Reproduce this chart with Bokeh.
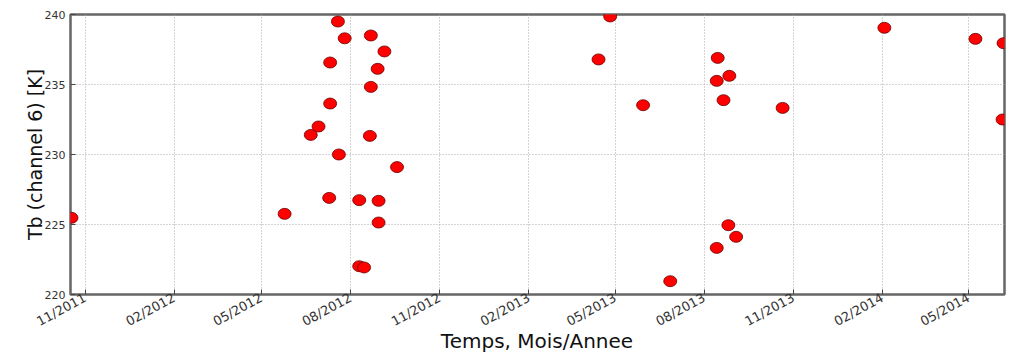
from datetime import datetime
from bokeh.plotting import figure
from bokeh.layouts import column
from bokeh.models import Range1d, FixedTicker, DatetimeTickFormatter, ColumnDataSource, Div
from bokeh.embed import file_html
from bokeh.resources import INLINE

dates = ["2011-10-18", "2012-05-25", "2012-06-21", "2012-06-29", "2012-07-10", "2012-07-11",
         "2012-07-11", "2012-07-19", "2012-07-20", "2012-07-26", "2012-08-10", "2012-08-10",
         "2012-08-15", "2012-08-21", "2012-08-22", "2012-08-22", "2012-08-29", "2012-08-30",
         "2012-08-30", "2012-09-05", "2012-09-18", "2013-04-14", "2013-04-26", "2013-05-30",
         "2013-06-27", "2013-08-14", "2013-08-14", "2013-08-15", "2013-08-21", "2013-08-26",
         "2013-08-27", "2013-09-03", "2013-10-21", "2014-02-03", "2014-05-08", "2014-06-05",
         "2014-06-06"]
tb = [225.48, 225.76, 231.4, 232.0, 226.9, 236.57,
      233.64, 239.5, 230.0, 238.3, 226.74, 222.02,
      221.93, 231.33, 234.83, 238.5, 236.12, 225.14,
      226.69, 237.36, 229.1, 236.79, 239.86, 233.52,
      220.95, 223.33, 235.26, 236.9, 233.88, 224.95,
      235.62, 224.12, 233.33, 239.05, 238.26, 232.5,
      237.95]
tick_months = ["2011-11-01", "2012-02-01", "2012-05-01", "2012-08-01", "2012-11-01",
               "2013-02-01", "2013-05-01", "2013-08-01", "2013-11-01", "2014-02-01",
               "2014-05-01"]
y_ticks = [220, 225, 230, 235, 240]
x_title = "Temps, Mois/Annee"
y_title = "Tb (channel 6) [K]"

x = [datetime.strptime(d, "%Y-%m-%d") for d in dates]
src = ColumnDataSource(dict(x=x, y=tb))

FONT = "DejaVu Sans"
p = figure(width=1010, height=338, x_axis_type="datetime", output_backend="svg",
           toolbar_location=None,
           x_range=Range1d(datetime(2011, 10, 17), datetime(2014, 6, 7)),
           y_range=Range1d(220, 240),
           min_border_left=70, min_border_right=6, min_border_top=14, min_border_bottom=44)

p.ellipse(x="x", y="y", width=13, height=11, width_units="screen", height_units="screen",
          source=src, fill_color="#ff0000", line_color="#6a0000", line_width=0.8)

tick_ms = [datetime.strptime(d, "%Y-%m-%d").timestamp() * 1000 for d in tick_months]
p.xaxis.ticker = FixedTicker(ticks=tick_ms)
p.xaxis.formatter = DatetimeTickFormatter(days="%m/%Y", months="%m/%Y", years="%m/%Y")
p.yaxis.ticker = FixedTicker(ticks=y_ticks)

for ax in (p.xaxis[0], p.yaxis[0]):
    ax.major_tick_in = 5
    ax.major_tick_out = 0
    ax.minor_tick_line_color = None
    ax.axis_line_color = None
    ax.major_tick_line_color = "#444444"
    ax.major_label_text_font = FONT
    ax.major_label_text_color = "#333333"
    ax.axis_label_text_font = FONT
    ax.axis_label_text_font_style = "normal"
    ax.axis_label_text_color = "#111111"

p.xaxis.major_label_text_font_size = "13px"
p.yaxis.major_label_text_font_size = "11px"
p.yaxis.axis_label_text_font_size = "19px"
p.xaxis.major_label_orientation = 0.5
p.yaxis.axis_label = y_title
p.yaxis.axis_label_standoff = -4
p.yaxis.major_label_standoff = 5
p.xaxis.major_label_standoff = 2

p.grid.grid_line_color = "#aaaaaa"
p.grid.grid_line_dash = "1 2"
p.grid.grid_line_width = 1

p.outline_line_color = "#666666"
p.outline_line_width = 2.5

p.background_fill_color = "white"
p.border_fill_color = "white"

xlabel = Div(text=('<div style="position:relative;top:-5px;width:1010px;height:14px;'
                   'line-height:16px;text-align:center;'
                   'padding-left:64px;box-sizing:border-box;font-family:\'DejaVu Sans\';'
                   'font-size:20px;color:#111111;white-space:nowrap">' + x_title + '</div>'),
             width=1010, height=14, margin=0)

layout = column(p, xlabel, spacing=0)
open("out.html", "w").write(file_html(layout, INLINE))
